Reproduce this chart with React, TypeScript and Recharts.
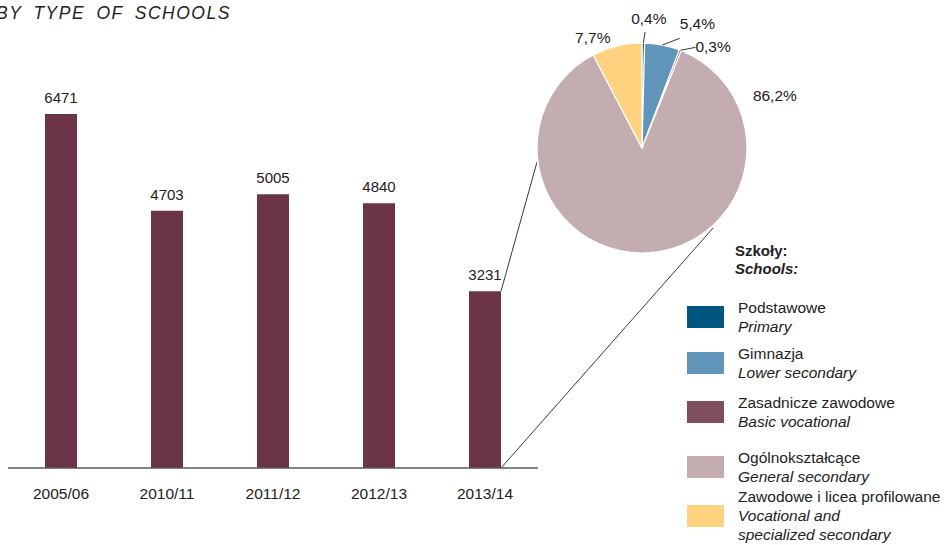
import { BarChart, Bar, XAxis, YAxis, LabelList, PieChart, Pie, Cell, Rectangle } from "recharts";

const years = ["2005/06", "2010/11", "2011/12", "2012/13", "2013/14"];
const pupils = [6471, 4703, 5005, 4840, 3231];

const schoolTypesPl = ["Podstawowe", "Gimnazja", "Zasadnicze zawodowe", "Ogólnokształcące", "Zawodowe i licea profilowane"];
const schoolTypesEn = ["Primary", "Lower secondary", "Basic vocational", "General secondary", "Vocational and\nspecialized secondary"];
const shares = [0.4, 5.4, 0.3, 86.2, 7.7];
const sliceColors = ["#005681", "#6195ba", "#7f4f5e", "#c4adb1", "#ffd27f"];

const barColor = "#6b3448";
const font = '"Liberation Sans", Arial, sans-serif';

// pie geometry on the page
const PIE_CX = 642;
const PIE_CY = 148;
const PIE_R = 105;
const PIE_LEFT = 492;

// where each percentage sits around the pie (deg, radius) and its leader line end
const labelSpots = [
  { angle: 87, r: 130, line: { angle: 88.5, r: 116 } },
  { angle: 66, r: 136, line: { angle: 71, r: 116 } },
  { angle: 55, r: 124, line: { angle: 62, r: 114 } },
  { angle: 21.7, r: 143, line: null },
  { angle: 114, r: 121, line: null },
];

const barData = years.map((year, i) => ({ year, value: pupils[i] }));
const pieData = schoolTypesPl.map((name, i) => ({ name, value: shares[i] }));
const legendTops = [298, 344, 393, 448, 487];

const RAD = Math.PI / 180;
const polar = (cx: number, cy: number, r: number, angle: number) => ({
  x: cx + r * Math.cos(-angle * RAD),
  y: cy + r * Math.sin(-angle * RAD),
});

function BarWithConnector(props: any) {
  const { x, y, width, height, index, fill } = props;
  const isLast = index === pupils.length - 1;
  const top = polar(PIE_CX, PIE_CY, PIE_R + 1, 187.7);
  const bottom = polar(PIE_CX, PIE_CY, PIE_R + 2, -48.4);
  return (
    <g>
      <Rectangle x={x} y={y} width={width} height={height} fill={fill} />
      {isLast && (
        <g stroke="#222" strokeWidth={0.9}>
          <line x1={x + width} y1={y} x2={top.x} y2={top.y} />
          <line x1={x + width} y1={y + height} x2={bottom.x} y2={bottom.y} />
        </g>
      )}
    </g>
  );
}

function renderPieLabel(props: any) {
  const { cx, cy, midAngle, outerRadius, index, value } = props;
  const spot = labelSpots[index];
  const p = polar(cx, cy, spot.r, spot.angle);
  const text = value.toFixed(1).replace(".", ",") + "%";
  let leader = null;
  if (spot.line) {
    const a = polar(cx, cy, outerRadius, midAngle);
    const b = polar(cx, cy, spot.line.r, spot.line.angle);
    leader = <line x1={a.x} y1={a.y} x2={b.x} y2={b.y} stroke="#222" strokeWidth={0.9} />;
  }
  return (
    <g key={`lbl-${index}`}>
      {leader}
      <text x={p.x} y={p.y} textAnchor="middle" dominantBaseline="central" fontSize={15.5} fill="#222" fontFamily={font}>
        {text}
      </text>
    </g>
  );
}

export default function App() {
  return (
    <div style={{ position: "absolute", left: 0, top: 0, width: 949, height: 545, background: "#fff", fontFamily: font, overflow: "hidden" }}>
      <div
        style={{
          position: "absolute",
          left: -4,
          top: 3,
          fontSize: 17.5,
          lineHeight: "20px",
          fontStyle: "italic",
          letterSpacing: 1.5,
          wordSpacing: 5,
          color: "#222",
          whiteSpace: "nowrap",
        }}
      >
        BY TYPE OF SCHOOLS
      </div>

      <div style={{ position: "absolute", left: 0, top: 0 }}>
        <BarChart width={949} height={545} data={barData} margin={{ top: 85, right: 411, bottom: 47, left: 8 }}>
          <XAxis
            dataKey="year"
            height={30}
            tickLine={false}
            tickSize={0}
            tickMargin={20}
            axisLine={{ stroke: "#5a5a5a", strokeWidth: 1.3 }}
            tick={{ fill: "#222", fontSize: 15.5, fontFamily: font }}
            interval={0}
          />
          <YAxis hide domain={[0, 7000]} />
          <Bar dataKey="value" fill={barColor} barSize={32} isAnimationActive={false} shape={BarWithConnector}>
            <LabelList dataKey="value" position="top" offset={11} fill="#222" fontSize={15} fontFamily={font} />
          </Bar>
        </BarChart>
      </div>

      <div style={{ position: "absolute", left: PIE_LEFT, top: 0 }}>
        <PieChart width={340} height={300} margin={{ top: 0, right: 0, bottom: 0, left: 0 }}>
          <Pie
            data={pieData}
            dataKey="value"
            cx={PIE_CX - PIE_LEFT}
            cy={PIE_CY}
            outerRadius={PIE_R}
            startAngle={90}
            endAngle={-270}
            stroke="#fff"
            strokeWidth={1.2}
            label={renderPieLabel}
            labelLine={false}
            isAnimationActive={false}
          >
            {pieData.map((d, i) => (
              <Cell key={d.name} fill={sliceColors[i]} />
            ))}
          </Pie>
        </PieChart>
      </div>

      <div style={{ position: "absolute", left: 735, top: 242, fontSize: 15, lineHeight: "18px", fontWeight: "bold", color: "#222" }}>
        <div>Szkoły:</div>
        <div style={{ fontStyle: "italic" }}>Schools:</div>
      </div>

      {schoolTypesPl.map((name, i) => (
        <div
          key={name}
          style={{ position: "absolute", left: 687, top: legendTops[i], display: "flex", alignItems: "center", color: "#222", fontSize: 15.5, lineHeight: "19px" }}
        >
          <div style={{ width: 37, height: 22, background: sliceColors[i], flexShrink: 0 }} />
          <div style={{ marginLeft: 14, whiteSpace: "pre" }}>
            <div>{name}</div>
            <div style={{ fontStyle: "italic" }}>{schoolTypesEn[i]}</div>
          </div>
        </div>
      ))}
    </div>
  );
}
